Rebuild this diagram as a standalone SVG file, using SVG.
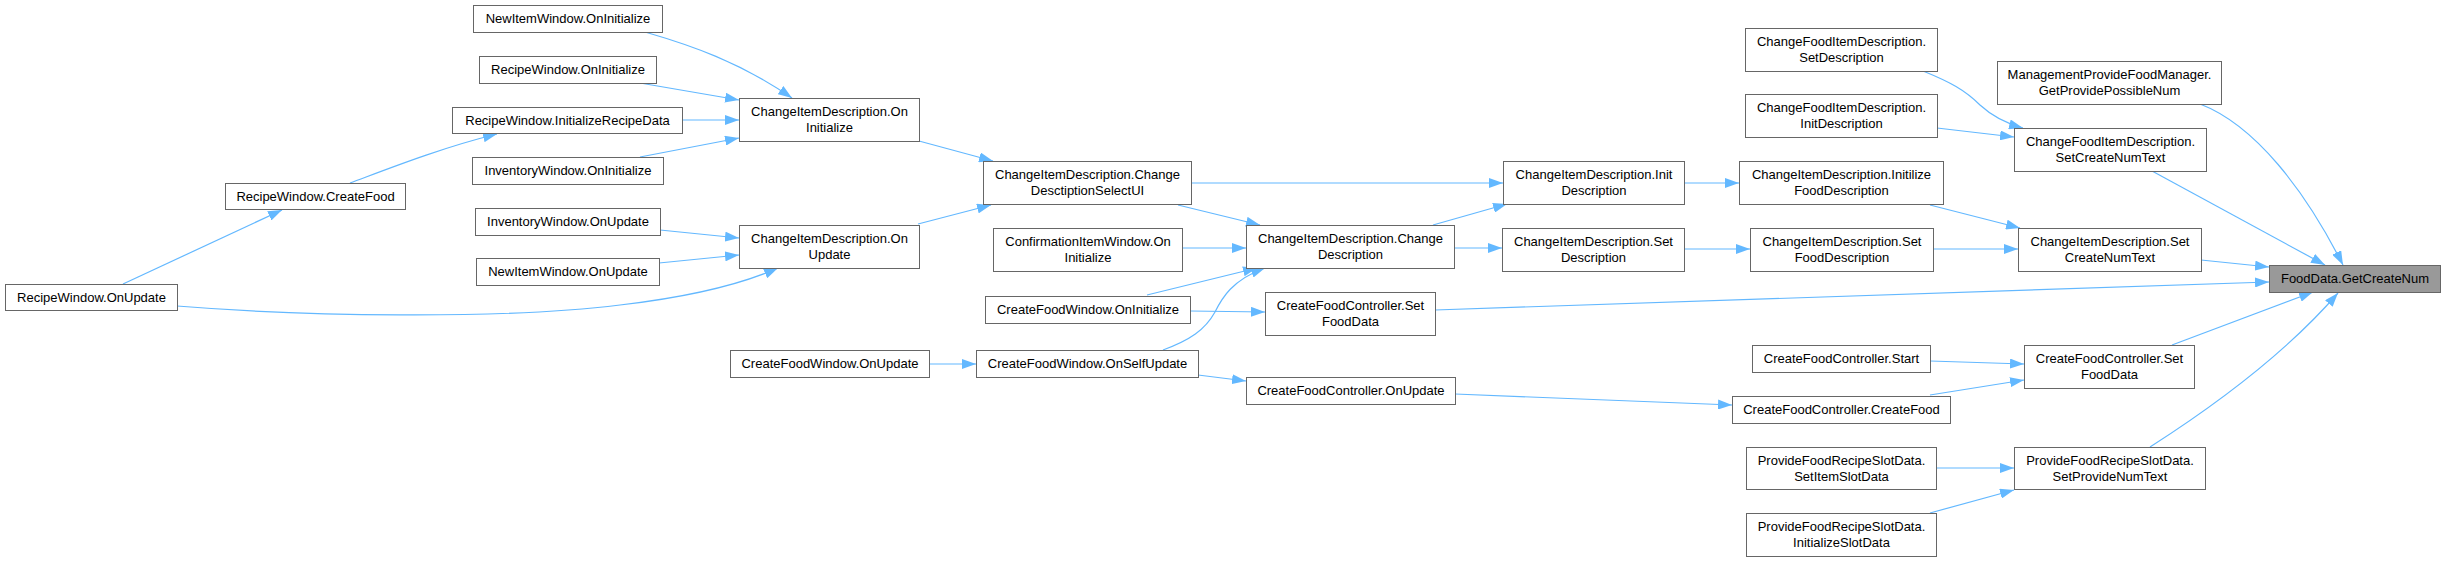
<svg xmlns="http://www.w3.org/2000/svg" width="2445" height="561" viewBox="0 0 2445 561">
<defs>
<style>
.n rect{fill:#ffffff;stroke:#666666;stroke-width:1}
.n.hl rect{fill:#999999}
.n text{font-family:"Liberation Sans",Arial,sans-serif;font-size:13px;fill:#000000;text-anchor:middle}
.e path{fill:none;stroke:#63b8ff;stroke-width:1.2;marker-end:url(#ah)}
</style>
<marker id="ah" markerUnits="userSpaceOnUse" markerWidth="14" markerHeight="10" viewBox="0 0 14 10" refX="14" refY="5" orient="auto">
<path d="M0,0 L14,5 L0,10 z" fill="#63b8ff"/>
</marker>
</defs>
<rect x="0" y="0" width="2445" height="561" fill="#ffffff"/>
<g id="edges" class="e">
<path d="M123,284 L282,210"/>
<path d="M350,183 C385,170 440,148 497,134"/>
<path d="M177,306 C300,316 500,320 620,305 C680,298 735,287 778,268"/>
<path d="M645,32 C690,45 740,62 792,98"/>
<path d="M640,83 L739,100"/>
<path d="M682,120 L739,120"/>
<path d="M640,157 L739,138"/>
<path d="M660,230 L739,238"/>
<path d="M659,263 L739,255"/>
<path d="M919,141 L993,161"/>
<path d="M918,224 L991,205"/>
<path d="M1191,183 L1503,183"/>
<path d="M1178,205 L1260,225"/>
<path d="M1182,248 L1246,248"/>
<path d="M1147,295 L1257,268"/>
<path d="M1190,311 L1265,312"/>
<path d="M1163,350 C1190,340 1205,330 1215,312 C1222,298 1232,280 1265,268"/>
<path d="M929,364 L976,364"/>
<path d="M1198,375 L1246,381"/>
<path d="M1433,225 L1507,204"/>
<path d="M1454,248 L1502,248"/>
<path d="M1684,183 L1739,183"/>
<path d="M1684,249 L1750,249"/>
<path d="M1930,205 L2020,228"/>
<path d="M1933,249 L2018,249"/>
<path d="M1923,71 C1950,82 1965,90 1980,105 C1993,117 2008,124 2023,128"/>
<path d="M1937,128 L2014,137"/>
<path d="M1435,310 L2269,282"/>
<path d="M1455,394 L1732,405"/>
<path d="M1930,361 L2024,364"/>
<path d="M1930,395 L2024,380"/>
<path d="M1936,468 L2014,468"/>
<path d="M1930,513 L2014,490"/>
<path d="M2200,104 C2255,125 2305,190 2343,265"/>
<path d="M2152,171 L2325,265"/>
<path d="M2201,260 L2269,267"/>
<path d="M2172,345 L2313,292"/>
<path d="M2150,447 C2200,415 2280,360 2338,293"/>
</g>
<g id="n1" class="n"><rect x="5.5" y="284.5" width="172" height="26"/><text x="91.5" y="302">RecipeWindow.OnUpdate</text></g>
<g id="n2" class="n"><rect x="225.5" y="183.5" width="180" height="26"/><text x="315.5" y="201">RecipeWindow.CreateFood</text></g>
<g id="n3" class="n"><rect x="473.5" y="5.5" width="189" height="27"/><text x="568" y="23">NewItemWindow.OnInitialize</text></g>
<g id="n4" class="n"><rect x="479.5" y="56.5" width="177" height="27"/><text x="568" y="74">RecipeWindow.OnInitialize</text></g>
<g id="n5" class="n"><rect x="452.5" y="107.5" width="230" height="26"/><text x="567.5" y="125">RecipeWindow.InitializeRecipeData</text></g>
<g id="n6" class="n"><rect x="472.5" y="157.5" width="191" height="27"/><text x="568" y="175">InventoryWindow.OnInitialize</text></g>
<g id="n7" class="n"><rect x="475.5" y="208.5" width="185" height="27"/><text x="568" y="226">InventoryWindow.OnUpdate</text></g>
<g id="n8" class="n"><rect x="476.5" y="258.5" width="183" height="27"/><text x="568" y="276">NewItemWindow.OnUpdate</text></g>
<g id="n9" class="n"><rect x="739.5" y="98.5" width="180" height="43"/><text x="829.5" y="116">ChangeItemDescription.On</text><text x="829.5" y="132">Initialize</text></g>
<g id="n10" class="n"><rect x="739.5" y="225.5" width="180" height="43"/><text x="829.5" y="243">ChangeItemDescription.On</text><text x="829.5" y="259">Update</text></g>
<g id="n11" class="n"><rect x="730.5" y="350.5" width="199" height="27"/><text x="830" y="368">CreateFoodWindow.OnUpdate</text></g>
<g id="n12" class="n"><rect x="983.5" y="161.5" width="208" height="43"/><text x="1087.5" y="179">ChangeItemDescription.Change</text><text x="1087.5" y="195">DesctiptionSelectUI</text></g>
<g id="n13" class="n"><rect x="993.5" y="228.5" width="189" height="43"/><text x="1088" y="246">ConfirmationItemWindow.On</text><text x="1088" y="262">Initialize</text></g>
<g id="n14" class="n"><rect x="985.5" y="296.5" width="205" height="27"/><text x="1088" y="314">CreateFoodWindow.OnInitialize</text></g>
<g id="n15" class="n"><rect x="976.5" y="350.5" width="222" height="27"/><text x="1087.5" y="368">CreateFoodWindow.OnSelfUpdate</text></g>
<g id="n16" class="n"><rect x="1246.5" y="225.5" width="208" height="43"/><text x="1350.5" y="243">ChangeItemDescription.Change</text><text x="1350.5" y="259">Description</text></g>
<g id="n17" class="n"><rect x="1265.5" y="292.5" width="170" height="43"/><text x="1350.5" y="310">CreateFoodController.Set</text><text x="1350.5" y="326">FoodData</text></g>
<g id="n18" class="n"><rect x="1246.5" y="377.5" width="209" height="27"/><text x="1351" y="395">CreateFoodController.OnUpdate</text></g>
<g id="n19" class="n"><rect x="1503.5" y="161.5" width="181" height="43"/><text x="1594" y="179">ChangeItemDescription.Init</text><text x="1594" y="195">Description</text></g>
<g id="n20" class="n"><rect x="1502.5" y="228.5" width="182" height="43"/><text x="1593.5" y="246">ChangeItemDescription.Set</text><text x="1593.5" y="262">Description</text></g>
<g id="n21" class="n"><rect x="1745.5" y="28.5" width="192" height="43"/><text x="1841.5" y="46">ChangeFoodItemDescription.</text><text x="1841.5" y="62">SetDescription</text></g>
<g id="n22" class="n"><rect x="1745.5" y="94.5" width="192" height="43"/><text x="1841.5" y="112">ChangeFoodItemDescription.</text><text x="1841.5" y="128">InitDescription</text></g>
<g id="n23" class="n"><rect x="1739.5" y="161.5" width="204" height="43"/><text x="1841.5" y="179">ChangeItemDescription.Initilize</text><text x="1841.5" y="195">FoodDescription</text></g>
<g id="n24" class="n"><rect x="1750.5" y="228.5" width="183" height="43"/><text x="1842" y="246">ChangeItemDescription.Set</text><text x="1842" y="262">FoodDescription</text></g>
<g id="n25" class="n"><rect x="1752.5" y="345.5" width="178" height="27"/><text x="1841.5" y="363">CreateFoodController.Start</text></g>
<g id="n26" class="n"><rect x="1732.5" y="396.5" width="218" height="27"/><text x="1841.5" y="414">CreateFoodController.CreateFood</text></g>
<g id="n27" class="n"><rect x="1746.5" y="447.5" width="190" height="42"/><text x="1841.5" y="465">ProvideFoodRecipeSlotData.</text><text x="1841.5" y="481">SetItemSlotData</text></g>
<g id="n28" class="n"><rect x="1746.5" y="513.5" width="190" height="43"/><text x="1841.5" y="531">ProvideFoodRecipeSlotData.</text><text x="1841.5" y="547">InitializeSlotData</text></g>
<g id="n29" class="n"><rect x="1997.5" y="61.5" width="224" height="43"/><text x="2109.5" y="79">ManagementProvideFoodManager.</text><text x="2109.5" y="95">GetProvidePossibleNum</text></g>
<g id="n30" class="n"><rect x="2014.5" y="128.5" width="192" height="43"/><text x="2110.5" y="146">ChangeFoodItemDescription.</text><text x="2110.5" y="162">SetCreateNumText</text></g>
<g id="n31" class="n"><rect x="2018.5" y="228.5" width="183" height="43"/><text x="2110" y="246">ChangeItemDescription.Set</text><text x="2110" y="262">CreateNumText</text></g>
<g id="n32" class="n"><rect x="2024.5" y="345.5" width="170" height="43"/><text x="2109.5" y="363">CreateFoodController.Set</text><text x="2109.5" y="379">FoodData</text></g>
<g id="n33" class="n"><rect x="2014.5" y="447.5" width="191" height="42"/><text x="2110" y="465">ProvideFoodRecipeSlotData.</text><text x="2110" y="481">SetProvideNumText</text></g>
<g id="n34" class="n hl"><rect x="2269.5" y="265.5" width="171" height="27"/><text x="2355" y="283">FoodData.GetCreateNum</text></g>
</svg>
